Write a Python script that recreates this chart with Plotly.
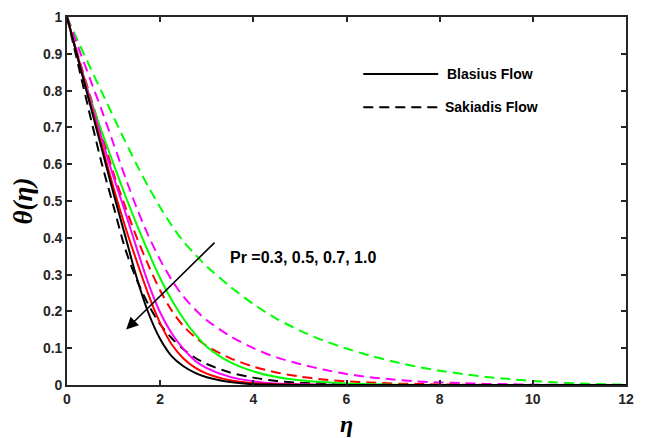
import plotly.graph_objects as go

# ---- data: eta grid and theta values per curve ----
eta_grid = [0, 0.25, 0.5, 0.75, 1.0, 1.25, 1.5, 1.75, 2.0, 2.25, 2.5, 2.75, 3.0, 3.5, 4.0, 4.5, 5.0,
            5.5, 6.0, 6.5, 7.0, 7.5, 8.0, 8.5, 9.0, 9.5, 10.0, 10.5, 11.0, 11.5, 12.0]

# Blasius flow (solid)
th_bl_03 = [1, 0.885, 0.78, 0.687, 0.6, 0.515, 0.435, 0.36, 0.29, 0.23, 0.18, 0.138, 0.104, 0.062, 0.037, 0.022, 0.013,
            0.008, 0.004, 0.002, 0.001, 0, 0, 0, 0, 0, 0, 0, 0, 0, 0]
th_bl_05 = [1, 0.885, 0.775, 0.668, 0.565, 0.47, 0.37, 0.275, 0.197, 0.14, 0.098, 0.066, 0.046, 0.022, 0.01, 0.004, 0.002,
            0.001, 0, 0, 0, 0, 0, 0, 0, 0, 0, 0, 0, 0, 0]
th_bl_07 = [1, 0.88, 0.765, 0.65, 0.535, 0.43, 0.335, 0.245, 0.168, 0.11, 0.072, 0.047, 0.031, 0.013, 0.005, 0.002, 0.001,
            0, 0, 0, 0, 0, 0, 0, 0, 0, 0, 0, 0, 0, 0]
th_bl_10 = [1, 0.88, 0.76, 0.64, 0.52, 0.405, 0.29, 0.195, 0.125, 0.078, 0.051, 0.033, 0.021, 0.008, 0.002, 0.001, 0,
            0, 0, 0, 0, 0, 0, 0, 0, 0, 0, 0, 0, 0, 0]

# Sakiadis flow (dashed)
th_sk_03 = [1, 0.93, 0.862, 0.795, 0.728, 0.662, 0.598, 0.538, 0.483, 0.433, 0.39, 0.355, 0.322, 0.268, 0.22, 0.18, 0.148,
            0.121, 0.099, 0.08, 0.064, 0.05, 0.039, 0.03, 0.022, 0.016, 0.011, 0.007, 0.004, 0.002, 0.001]
th_sk_05 = [1, 0.915, 0.83, 0.745, 0.655, 0.565, 0.48, 0.405, 0.34, 0.285, 0.24, 0.205, 0.176, 0.133, 0.1, 0.075, 0.057,
            0.042, 0.03, 0.021, 0.015, 0.01, 0.007, 0.005, 0.003, 0.002, 0.001, 0.001, 0, 0, 0]
th_sk_07 = [1, 0.89, 0.785, 0.68, 0.575, 0.485, 0.4, 0.325, 0.257, 0.202, 0.16, 0.13, 0.106, 0.073, 0.05, 0.034, 0.023,
            0.015, 0.01, 0.007, 0.004, 0.003, 0.0015, 0.001, 0.0005, 0, 0, 0, 0, 0, 0]
th_sk_10 = [1, 0.865, 0.73, 0.6, 0.485, 0.37, 0.285, 0.218, 0.165, 0.127, 0.097, 0.074, 0.057, 0.034, 0.02, 0.011, 0.006,
            0.004, 0.002, 0.001, 0, 0, 0, 0, 0, 0, 0, 0, 0, 0, 0]

x_ticks = [0, 2, 4, 6, 8, 10, 12]
y_ticks = [0, 0.1, 0.2, 0.3, 0.4, 0.5, 0.6, 0.7, 0.8, 0.9, 1]
y_ticklabels = ["0", "0.1", "0.2", "0.3", "0.4", "0.5", "0.6", "0.7", "0.8", "0.9", "1"]

GREEN, MAGENTA, RED, BLACK = "#00FF00", "#FF00FF", "#FF0000", "#000000"
DASH = "10px,6px"

series = [
    (th_sk_03, GREEN, DASH),
    (th_sk_05, MAGENTA, DASH),
    (th_sk_07, RED, DASH),
    (th_sk_10, BLACK, DASH),
    (th_bl_03, GREEN, "solid"),
    (th_bl_05, MAGENTA, "solid"),
    (th_bl_07, RED, "solid"),
    (th_bl_10, BLACK, "solid"),
]

fig = go.Figure()
for th, col, dash in series:
    fig.add_trace(go.Scatter(x=eta_grid, y=th, mode="lines", showlegend=False,
                             line=dict(color=col, width=2, dash=dash, shape="spline", smoothing=0.8)))

FONT = "Liberation Sans, Arial, Helvetica, sans-serif"
SERIF = "Liberation Serif, Times New Roman, serif"
AXC = "#262626"
axis_common = dict(showline=True, linecolor=AXC, linewidth=1.6, mirror="ticks",
                   ticks="inside", ticklen=5, tickwidth=1.5, tickcolor=AXC,
                   showgrid=False, zeroline=False, automargin=False,
                   tickfont=dict(family=FONT, size=14, color=AXC, weight="bold"))

fig.update_xaxes(range=[0, 12], tickvals=x_ticks, **axis_common,
                 title=dict(text="<b><i>η</i></b>", standoff=10,
                            font=dict(family=SERIF, size=24, color="black")))
fig.update_yaxes(range=[0, 1], tickvals=y_ticks, ticktext=y_ticklabels, **axis_common,
                 title=dict(text="<b><i>θ(η)</i></b>", standoff=10,
                            font=dict(family=SERIF, size=27, color="black")))

# arrow and parameter label
fig.add_annotation(x=1.27, y=0.151, ax=3.2, ay=0.391, xref="x", yref="y", axref="x", ayref="y",
                   showarrow=True, arrowhead=2, arrowsize=1.5, arrowwidth=1.6, arrowcolor="black", text="")
fig.add_annotation(x=3.46, y=0.346, xref="x", yref="y", xanchor="left", yanchor="middle",
                   showarrow=False, text="Pr =0.3, 0.5, 0.7, 1.0",
                   font=dict(family=FONT, size=16, color="black", weight="bold"))

# legend drawn as line samples with labels
fig.add_shape(type="line", xref="paper", yref="paper", x0=0.530, x1=0.664, y0=0.845, y1=0.845,
              line=dict(color="black", width=2))
fig.add_shape(type="line", xref="paper", yref="paper", x0=0.530, x1=0.664, y0=0.755, y1=0.755,
              line=dict(color="black", width=2, dash=DASH))
fig.add_annotation(x=0.676, y=0.845, xref="paper", yref="paper", xanchor="left", yanchor="middle",
                   showarrow=False, text="Blasius Flow", font=dict(family=FONT, size=14, color="black", weight="bold"))
fig.add_annotation(x=0.673, y=0.755, xref="paper", yref="paper", xanchor="left", yanchor="middle",
                   showarrow=False, text="Sakiadis Flow", font=dict(family=FONT, size=14, color="black", weight="bold"))

# the page body adds an 8px offset, so the figure is sized to fit the 646x438 window
fig.update_layout(width=638, height=430, margin=dict(l=59, r=20, t=9, b=53),
                  plot_bgcolor="white", paper_bgcolor="white")

fig.write_html("out.html")
